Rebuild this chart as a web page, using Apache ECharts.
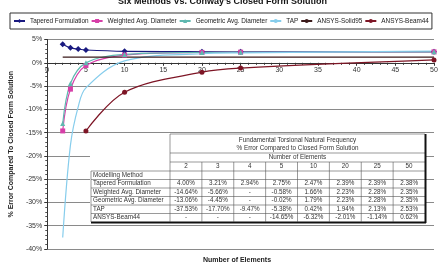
<!DOCTYPE html>
<html>
<head>
<meta charset="utf-8">
<script src="https://cdn.jsdelivr.net/npm/echarts@6/dist/echarts.min.js"></script>
<style>
  html, body { margin: 0; padding: 0; background: #fff; }
  #chart { width: 445px; height: 266px; }
</style>
</head>
<body>
<div id="chart"></div>
<script>
// number of elements
const elements = [2, 3, 4, 5, 10, 20, 25, 50];

const tapered   = [4.00, 3.21, 2.94, 2.75, 2.47, 2.39, 2.39, 2.38];
const weighted  = [-14.64, -5.66, null, -0.58, 1.66, 2.23, 2.28, 2.35];
const geometric = [-13.06, -4.45, null, -0.02, 1.79, 2.23, 2.28, 2.35];
const tap       = [-37.53, -17.70, -9.47, -5.38, 0.42, 1.94, 2.13, 2.53];
const solid95   = [1.2, 1.2, 1.2, 1.2, 1.2, 1.2, 1.2, 1.2];
const beam44    = [null, null, null, -14.65, -6.32, -2.01, -1.14, 0.62];

const yTicks = [5, 0, -5, -10, -15, -20, -25, -30, -35, -40];

const font = 'Liberation Sans';

function pairs(vals) {
    return elements.map((x, i) => [x, vals[i]]);
}

function lineSeries(name, vals, color, symbol, extra) {
    return Object.assign({
        name: name,
        type: 'line',
        smooth: 0.35,
        connectNulls: true,
        data: pairs(vals),
        symbol: symbol || 'none',
        symbolSize: 5,
        showSymbol: !!symbol,
        lineStyle: { color: color, width: 1.2 },
        itemStyle: { color: color },
        emphasis: { disabled: true },
        z: 3
    }, extra || {});
}

// ---- table built from the same arrays ----
const tblLeft = 91, lblRight = 170, tblRight = 425;
const colW = (tblRight - lblRight) / elements.length;
const rowY = [171, 179.5, 188, 196.5, 205, 213.5, 222];
const tableRows = [
    ['Tapered Formulation', tapered],
    ['Weighted Avg. Diameter', weighted],
    ['Geometric Avg. Diameter', geometric],
    ['TAP', tap],
    ['ANSYS-Beam44', beam44]
];

function txt(x, y, s, align, extra) {
    return Object.assign({
        type: 'text', x: x, y: y, z: 101,
        style: { text: s, fill: '#333', font: '6.3px ' + font, textAlign: align || 'center', textVerticalAlign: 'middle' }
    }, extra || {});
}
function ln(x1, y1, x2, y2, w, c) {
    return { type: 'line', z: 101, shape: { x1: x1, y1: y1, x2: x2, y2: y2 }, style: { stroke: c || '#555', lineWidth: w || 0.6 } };
}

const tbl = [];
tbl.push({ type: 'rect', z: 100, shape: { x: 90, y: 134, width: 336, height: 89 }, style: { fill: '#fff' } });
const mid = (lblRight + tblRight) / 2;
tbl.push(txt(mid, 140, 'Fundamental Torsional Natural Frequency'));
tbl.push(txt(mid, 148.5, '% Error Compared to Closed Form Solution'));
tbl.push(txt(mid, 157.5, 'Number of Elements'));
[134, 153, 162].forEach(y => tbl.push(ln(lblRight, y, tblRight, y)));
rowY.slice(0, 6).forEach(y => tbl.push(ln(tblLeft, y, tblRight, y)));
tbl.push(ln(tblLeft, 222.5, tblRight + 1, 222.5, 2, '#111'));
tbl.push(ln(tblRight + 0.5, 134, tblRight + 0.5, 223, 2, '#111'));
tbl.push(ln(tblLeft, 171, tblLeft, 222));
tbl.push(ln(lblRight, 134, lblRight, 222));
for (let k = 1; k < elements.length; k++) {
    const x = lblRight + k * colW;
    tbl.push(ln(x, 162, x, 222));
}
elements.forEach((n, k) => tbl.push(txt(lblRight + (k + 0.5) * colW, 166.5, String(n))));
tbl.push(txt(tblLeft + 2, (rowY[0] + rowY[1]) / 2, 'Modelling Method', 'left'));
tableRows.forEach((row, r) => {
    const yc = (rowY[r + 1] + rowY[r + 2]) / 2;
    tbl.push(txt(tblLeft + 2, yc, row[0], 'left'));
    row[1].forEach((v, k) => {
        tbl.push(txt(lblRight + (k + 0.5) * colW, yc, v == null ? '-' : v.toFixed(2) + '%'));
    });
});
tbl.push({ type: 'text', left: 203, top: 257, z: 101,
    style: { text: 'Number of Elements', fill: '#222', font: 'bold 7px ' + font } });

const chart = echarts.init(document.getElementById('chart'));
chart.setOption({
    animation: false,
    backgroundColor: '#fff',
    title: {
        text: "Six Methods Vs. Conway's Closed Form Solution",
        left: 'center', top: -8,
        textStyle: { fontFamily: font, fontSize: 9, fontWeight: 'bold', color: '#111' }
    },
    legend: {
        left: 10, top: 13, width: 435,
        padding: [5, 3],
        borderColor: '#333', borderWidth: 1,
        itemWidth: 11, itemHeight: 5, itemGap: 2,
        textStyle: { fontFamily: font, fontSize: 6.4, color: '#222' },
        data: ['Tapered Formulation', 'Weighted Avg. Diameter', 'Geometric Avg. Diameter', 'TAP', 'ANSYS-Solid95', 'ANSYS-Beam44']
    },
    grid: { left: 33, right: 11, top: 39.5, bottom: 17 },
    xAxis: {
        type: 'value', min: 0, max: 50, interval: 5,
        offset: -186.2,
        axisLine: { onZero: false, lineStyle: { color: '#333', width: 1 } },
        axisTick: { show: true, length: 3, lineStyle: { color: '#333' } },
        minorTick: { show: true, splitNumber: 5, length: 2, lineStyle: { color: '#333' } },
        splitLine: { show: false },
        axisLabel: { fontFamily: font, fontSize: 7, color: '#333', margin: 4 }
    },
    yAxis: {
        type: 'value', min: -40, max: 5, interval: 5,
        name: '% Error Compared To Closed Form Solution',
        nameLocation: 'middle', nameGap: 25,
        nameTextStyle: { fontFamily: font, fontSize: 7, fontWeight: 'bold', color: '#222' },
        axisLine: { show: true, lineStyle: { color: '#333' } },
        axisTick: { show: true, length: 3, lineStyle: { color: '#333' } },
        minorTick: { show: true, splitNumber: 5, length: 2, lineStyle: { color: '#555' } },
        splitLine: { show: true, lineStyle: { color: '#8a8a8a', width: 1 } },
        axisLabel: {
            fontFamily: font, fontSize: 7, color: '#333', margin: 5,
            formatter: v => (yTicks.indexOf(v) >= 0 ? v + '%' : '')
        }
    },
    graphic: tbl,
    series: [
        lineSeries('Tapered Formulation', tapered, '#1a1a80', 'diamond', { symbolSize: 6 }),
        lineSeries('Weighted Avg. Diameter', weighted, '#d63fa8', 'rect'),
        lineSeries('Geometric Avg. Diameter', geometric, '#5fb8b0', 'triangle'),
        lineSeries('TAP', tap, '#86cdec', null),
        lineSeries('ANSYS-Solid95', solid95, '#3b1a1a', null, { smooth: false }),
        lineSeries('ANSYS-Beam44', beam44, '#7d1525', 'circle')
    ]
});
</script>
</body>
</html>
